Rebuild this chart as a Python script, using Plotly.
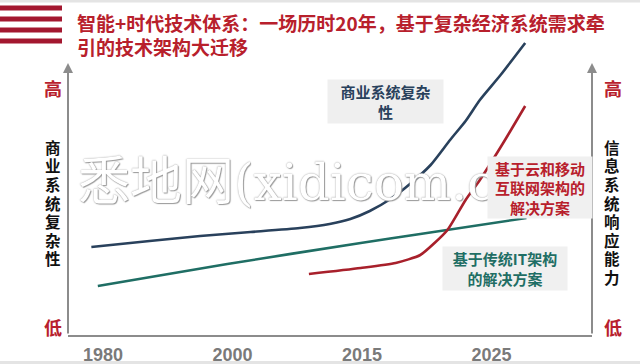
import plotly.graph_objects as go

W, H = 640, 364

# ---------------- data ----------------
tick_labels = ["1980", "2000", "2015", "2025"]
tick_pos = [0, 1, 2, 3]

# business complexity (navy)
blue_x = [-0.09, 0.36, 0.75, 1.14, 1.52, 1.75, 1.91, 2.06, 2.22, 2.37, 2.53, 2.68, 2.80, 2.91, 3.07, 3.26]
blue_y = [88, 94, 99, 103, 107, 111, 116, 124, 136, 151, 170, 195, 214, 235, 260, 292]

# traditional IT architecture (teal)
teal_x = [-0.04, 0.96, 1.99, 2.45, 3.27]
teal_y = [49, 71, 92, 101, 117]

# cloud / mobile internet architecture (red)
red_x = [1.59, 1.99, 2.26, 2.45, 2.56, 2.66, 2.80, 2.91, 3.09, 3.26]
red_y = [61, 67, 72, 80, 92, 105, 135, 155, 192, 229]

title_lines = ["智能+时代技术体系：一场历时20年，基于复杂经济系统需求牵", "引的技术架构大迁移"]
left_label = "商业系统复杂性"
right_label = "信息系统响应能力"

NAVY = "#29415c"
TEAL = "#1f6e64"
RED = "#a8202b"
TXT_RED = "#b8202c"
GRAY = "#8c8c8c"
CJK = "Noto Sans CJK SC"


def px(x):
    return x / W


def py(y):
    return 1 - y / H


fig = go.Figure()
fig.add_trace(go.Scatter(x=blue_x, y=blue_y, mode="lines",
                         line=dict(color=NAVY, width=2.6, shape="spline", smoothing=0.6),
                         hoverinfo="skip", cliponaxis=False))
fig.add_trace(go.Scatter(x=teal_x, y=teal_y, mode="lines",
                         line=dict(color=TEAL, width=2.6, shape="spline", smoothing=0.6),
                         hoverinfo="skip", cliponaxis=False))
fig.add_trace(go.Scatter(x=red_x, y=red_y, mode="lines",
                         line=dict(color=RED, width=2.6, shape="spline", smoothing=0.6),
                         hoverinfo="skip", cliponaxis=False))

shapes = []
# top / bottom thin gray bands
shapes.append(dict(type="rect", xref="paper", yref="paper", x0=0, x1=1, y0=py(2.5), y1=py(0),
                   fillcolor="#e4e4e4", line=dict(width=0), layer="below"))
shapes.append(dict(type="rect", xref="paper", yref="paper", x0=0, x1=1, y0=py(364), y1=py(361),
                   fillcolor="#e4e4e4", line=dict(width=0), layer="below"))
# red stripes top-left
for yc in [8, 19, 30, 41]:
    shapes.append(dict(type="rect", xref="paper", yref="paper", x0=0, x1=px(62),
                       y0=py(yc + 2.5), y1=py(yc - 2.5), fillcolor="#a3172f",
                       line=dict(width=0)))

annotations = []


def ann(x, y, text, font, xanchor="center", yanchor="middle", **kw):
    d = dict(x=px(x), y=py(y), xref="paper", yref="paper", showarrow=False, text=text,
             font=font, xanchor=xanchor, yanchor=yanchor)
    d.update(kw)
    annotations.append(d)


# watermark
ann(76, 177,
    "悉地网<span style='font-family:DejaVu Serif;font-size:50px'>(xidicom.cn)</span>",
    dict(family=CJK, size=52, color="#ffffff",
         shadow="0px 0px 1.5px #8a8a8a, 1px 1px 1px #a0a0a0"),
    xanchor="left")
# axis arrows (left and right)
for xa in [68, 592]:
    annotations.append(dict(x=px(xa), y=py(63), xref="paper", yref="paper", text="",
                            showarrow=True, ax=0, ay=272, axref="pixel", ayref="pixel",
                            arrowhead=2, arrowsize=1, arrowwidth=2, arrowcolor=GRAY,
                            standoff=0, startstandoff=0))
# title
for i, t in enumerate(title_lines):
    ann(75, 22 + 24 * i, "<b>%s</b>" % t, dict(family=CJK, size=19, color=TXT_RED), xanchor="left")
# high / low labels
for xc in [53, 613]:
    ann(xc, 88, "<b>高</b>", dict(family=CJK, size=18, color=TXT_RED))
    ann(xc, 327, "<b>低</b>", dict(family=CJK, size=18, color=TXT_RED))
# vertical side labels
for i, ch in enumerate(left_label):
    ann(53, 147 + 18.5 * i, "<b>%s</b>" % ch, dict(family=CJK, size=15.5, color="#111111"))
for i, ch in enumerate(right_label):
    ann(612, 147 + 18.5 * i, "<b>%s</b>" % ch, dict(family=CJK, size=15.5, color="#111111"))
# boxed series labels
ann(385.5, 101.5, "<b>商业系统复杂<br>性</b>", dict(family=CJK, size=15, color=NAVY),
    width=115, height=43, bgcolor="#efefef", borderpad=0)
ann(540, 187.5, "<b>基于云和移动<br>互联网架构的<br>解决方案</b>", dict(family=CJK, size=15, color=TXT_RED),
    width=104, height=61, bgcolor="#f0f0f0", borderpad=0)
ann(505, 268.5, "<b>基于传统IT架构<br>的解决方案</b>", dict(family=CJK, size=15, color=TEAL),
    width=124, height=43, bgcolor="#f0f0f0", borderpad=0)

fig.update_layout(
    width=W, height=H,
    margin=dict(l=0, r=0, t=0, b=0, autoexpand=False),
    paper_bgcolor="white", plot_bgcolor="white",
    showlegend=False,
    shapes=shapes, annotations=annotations,
    xaxis=dict(domain=[68 / W, 592 / W], range=[-0.2703, 3.776], tickvals=tick_pos,
               ticktext=tick_labels, showgrid=False, zeroline=False, showline=True,
               linecolor=GRAY, linewidth=2, ticks="", ticklabelstandoff=2, automargin=False,
               tickfont=dict(family="Liberation Sans", size=18, color="#7a7a7a", weight="bold"),
               fixedrange=True),
    yaxis=dict(domain=[29 / H, 334 / H], range=[0, 305], showgrid=False, zeroline=False,
               showline=False, showticklabels=False, ticks="", fixedrange=True, automargin=False),
)

fig.write_html("out.html")
